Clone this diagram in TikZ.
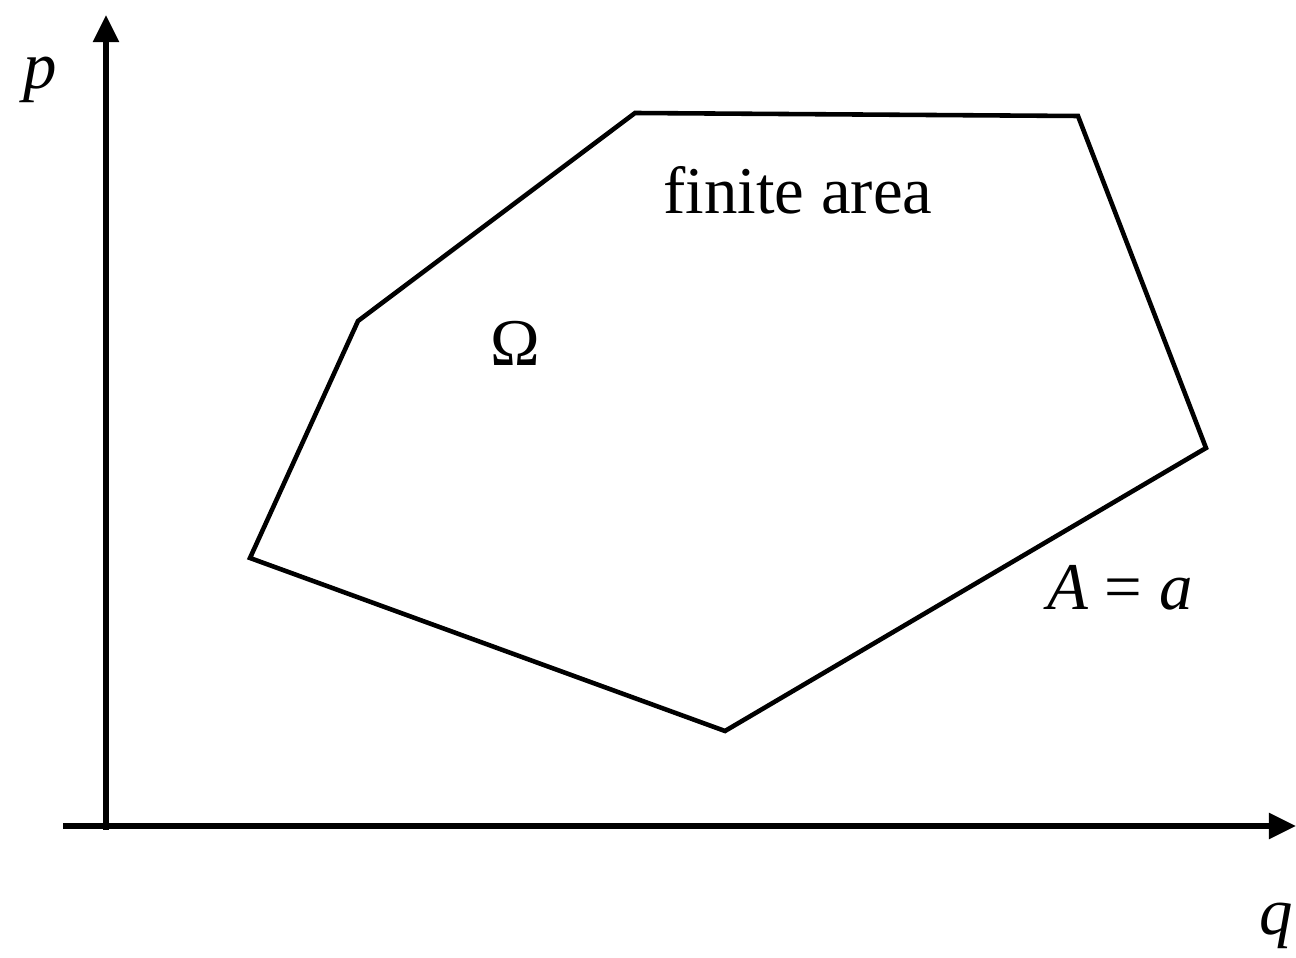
\documentclass[tikz,border=0pt]{standalone}
\usepackage{fontspec}
\setmainfont{Liberation Serif}
\usetikzlibrary{arrows.meta}
\begin{document}
\begin{tikzpicture}[x=0.01cm,y=-0.01cm,font=\fontsize{19}{22}\selectfont]
\useasboundingbox (0,0) rectangle (1296,958);
\coordinate (qstart) at (63,826);
\coordinate (qend) at (1296,826);
\coordinate (pstart) at (106,830);
\coordinate (pend) at (106,15);
\draw[line width=1.5pt,-{Triangle[length=0.27cm,width=0.25cm]}] (qstart) -- (qend);
\draw[line width=1.5pt,-{Triangle[length=0.27cm,width=0.25cm]}] (pstart) -- (pend);
\node (plabel) at (40,80) {\textit{p}};
\node (qlabel) at (1276,926) {\textit{q}};
% the region
\coordinate (v1) at (635,113);
\coordinate (v2) at (1078,116);
\coordinate (v3) at (1206,448);
\coordinate (v4) at (725,731);
\coordinate (v5) at (250,558);
\coordinate (v6) at (358,321);
\draw[line width=1.3pt] (v1) -- (v2) -- (v3) -- (v4) -- (v5) -- (v6) -- cycle;
\node (area) at (798,190) {finite area};
\node (omega) at (515,343) {Ω};
\node (level) at (1120,588) {\textit{A} = \textit{a}};
\end{tikzpicture}
\end{document}
